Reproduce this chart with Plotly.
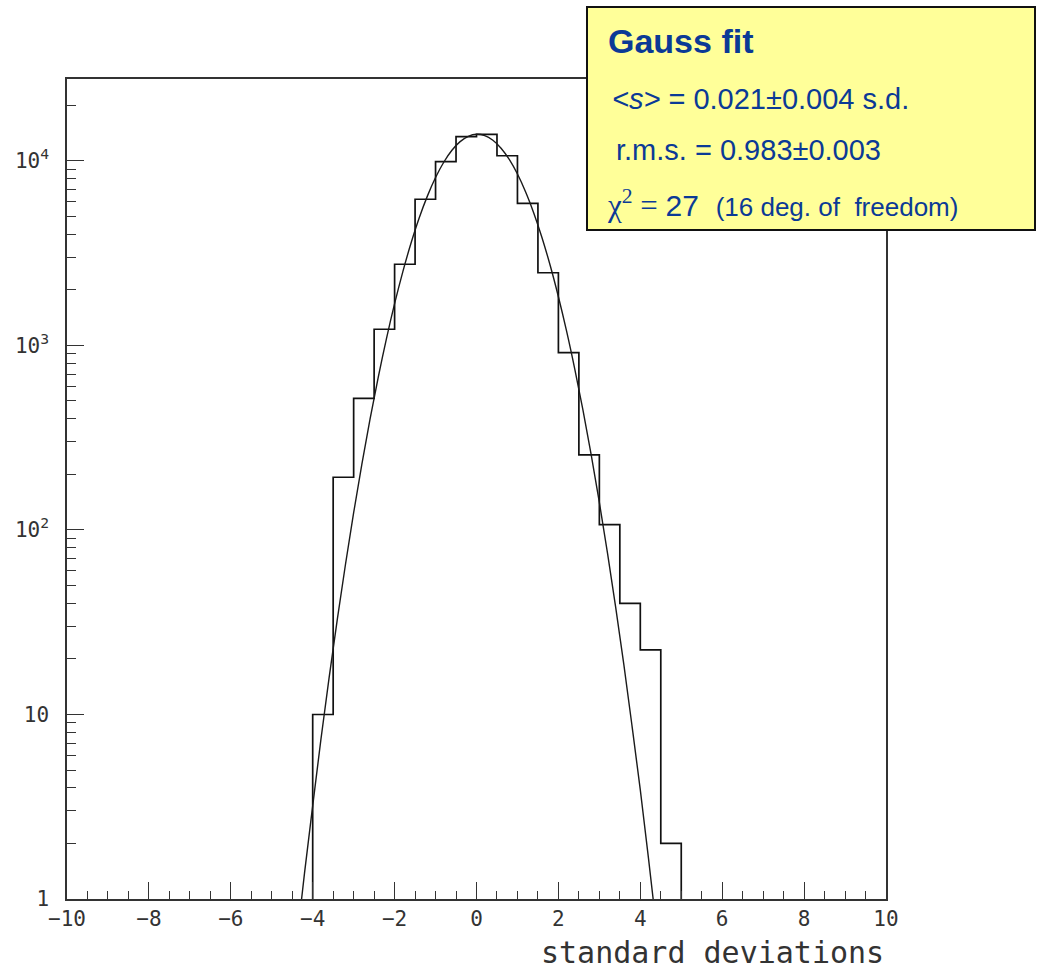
import plotly.graph_objects as go

# ---------------- data ----------------
bin_edges = [-4.0, -3.5, -3.0, -2.5, -2.0, -1.5, -1.0, -0.5, 0.0, 0.5,
             1.0, 1.5, 2.0, 2.5, 3.0, 3.5, 4.0, 4.5, 5.0]
bin_counts = [10, 193, 517, 1224, 2754, 6200, 9910, 13550, 13940, 10670,
              5890, 2478, 914, 255, 107, 40, 22.4, 2.0]

fit_x = [-4.4, -4.2, -4.0, -3.8, -3.6, -3.4, -3.2, -3.0, -2.8, -2.6, -2.4,
         -2.2, -2.0, -1.8, -1.6, -1.4, -1.2, -1.0, -0.8, -0.6, -0.4, -0.2,
         0.0, 0.2, 0.4, 0.6, 0.8, 1.0, 1.2, 1.4, 1.6, 1.8, 2.0, 2.2, 2.4,
         2.6, 2.8, 3.0, 3.2, 3.4, 3.6, 3.8, 4.0, 4.2, 4.4]
fit_y = [0.56, 1.38, 3.2, 7.3, 15.8, 32.7, 65, 124, 227, 399, 672,
         1086, 1684, 2506, 3579, 4903, 6446, 8129, 9835, 11419, 12719, 13592,
         13937, 13711, 12942, 11720, 10183, 8489, 6791, 5211, 3837, 2711, 1837, 1195, 745,
         446, 256, 141, 74.7, 37.9, 18.5, 8.6, 3.9, 1.66, 0.68]

x_tick_vals = [-10, -8, -6, -4, -2, 0, 2, 4, 6, 8, 10]
y_tick_vals = [1, 10, 100, 1000, 10000]
y_tick_text = ["1", "10", "10<sup>2</sup>", "10<sup>3</sup>", "10<sup>4</sup>"]

x_title = "standard deviations"
box_title = "Gauss fit"
box_mean = "0.021±0.004 s.d."
box_rms = "r.m.s. = 0.983±0.003"
box_chi2 = "27"
box_ndf = "(16 deg. of\u00a0 freedom)"

# ---------------- figure ----------------
W, H = 1038, 971
L, R, T, B = 67, 886, 79, 899
floor = 1

step_x = [bin_edges[0]] + bin_edges
step_y = [floor] + bin_counts + [floor]

fig = go.Figure()
fig.add_trace(go.Scatter(x=step_x, y=step_y, mode="lines", line_shape="hv",
                         line=dict(color="#111111", width=1.7), showlegend=False))
fig.add_trace(go.Scatter(x=fit_x, y=fit_y, mode="lines", line_shape="spline",
                         line=dict(color="#1a1a1a", width=1.4), showlegend=False))

minor_y = []
for dec in [1, 10, 100, 1000, 10000]:
    for m in range(2, 10):
        v = m * dec
        if v < 10 ** 4.444:
            minor_y.append(v)

tick_font = dict(family="DejaVu Sans Mono", size=21, color="#333333")

fig.update_xaxes(range=[-10, 10], tickmode="array", tickvals=x_tick_vals,
                 ticks="inside", ticklen=17, tickwidth=1.3, tickcolor="#333333",
                 showline=True, linecolor="#333333", linewidth=1.5, mirror=True,
                 showgrid=False, zeroline=False, tickfont=tick_font,
                 minor=dict(dtick=0.5, tick0=-10, ticks="inside", ticklen=8,
                            tickwidth=1.3, tickcolor="#333333", showgrid=False))
fig.update_yaxes(type="log", range=[0, 4.444], tickmode="array", tickvals=y_tick_vals,
                 ticktext=y_tick_text, ticks="inside", ticklen=17, tickwidth=1.3,
                 tickcolor="#333333", showline=True, linecolor="#333333", linewidth=1.5,
                 mirror=True, showgrid=False, zeroline=False, tickfont=tick_font,
                 ticklabelstandoff=12,
                 minor=dict(tickmode="array", tickvals=minor_y, ticks="inside", ticklen=9,
                            tickwidth=1.3, tickcolor="#333333", showgrid=False))

def px(x):
    return (x - L) / (R - L)

def py(y):
    return (B - y) / (B - T)

# yellow box
fig.add_shape(type="rect", xref="paper", yref="paper", layer="above",
              x0=px(587), x1=px(1035), y0=py(230), y1=py(7),
              fillcolor="#ffff99", line=dict(color="#111111", width=2))

blue = "#0b3a96"
sans = "Liberation Sans"
fig.add_annotation(xref="paper", yref="paper", x=px(606), y=py(41), xanchor="left",
                   yanchor="middle", showarrow=False, text="<b>" + box_title + "</b>",
                   font=dict(family=sans, size=34, color=blue))
fig.add_annotation(xref="paper", yref="paper", x=px(610), y=py(99), xanchor="left",
                   yanchor="middle", showarrow=False,
                   text="<i>&lt;s&gt;</i> = " + box_mean,
                   font=dict(family=sans, size=29, color=blue))
fig.add_annotation(xref="paper", yref="paper", x=px(614), y=py(150), xanchor="left",
                   yanchor="middle", showarrow=False, text=box_rms,
                   font=dict(family=sans, size=29, color=blue))
fig.add_annotation(xref="paper", yref="paper", x=px(605), y=py(203), xanchor="left",
                   yanchor="middle", showarrow=False,
                   text=("<span style='font-family:Liberation Serif;font-size:31px'>χ<sup>2</sup> = </span>"
                         + box_chi2 + "\u00a0 <span style='font-size:26px'>" + box_ndf + "</span>"),
                   font=dict(family=sans, size=30, color=blue))

# x-axis title (right aligned, ROOT style)
fig.add_annotation(xref="paper", yref="paper", x=1.0, y=py(952), xanchor="right",
                   yanchor="middle", showarrow=False, text=x_title,
                   font=dict(family="DejaVu Sans Mono", size=30, color="#333333"))

fig.update_layout(width=W, height=H, margin=dict(l=L, r=W - R, t=T, b=H - B),
                  paper_bgcolor="white", plot_bgcolor="white", showlegend=False)

fig.write_html("out.html")
